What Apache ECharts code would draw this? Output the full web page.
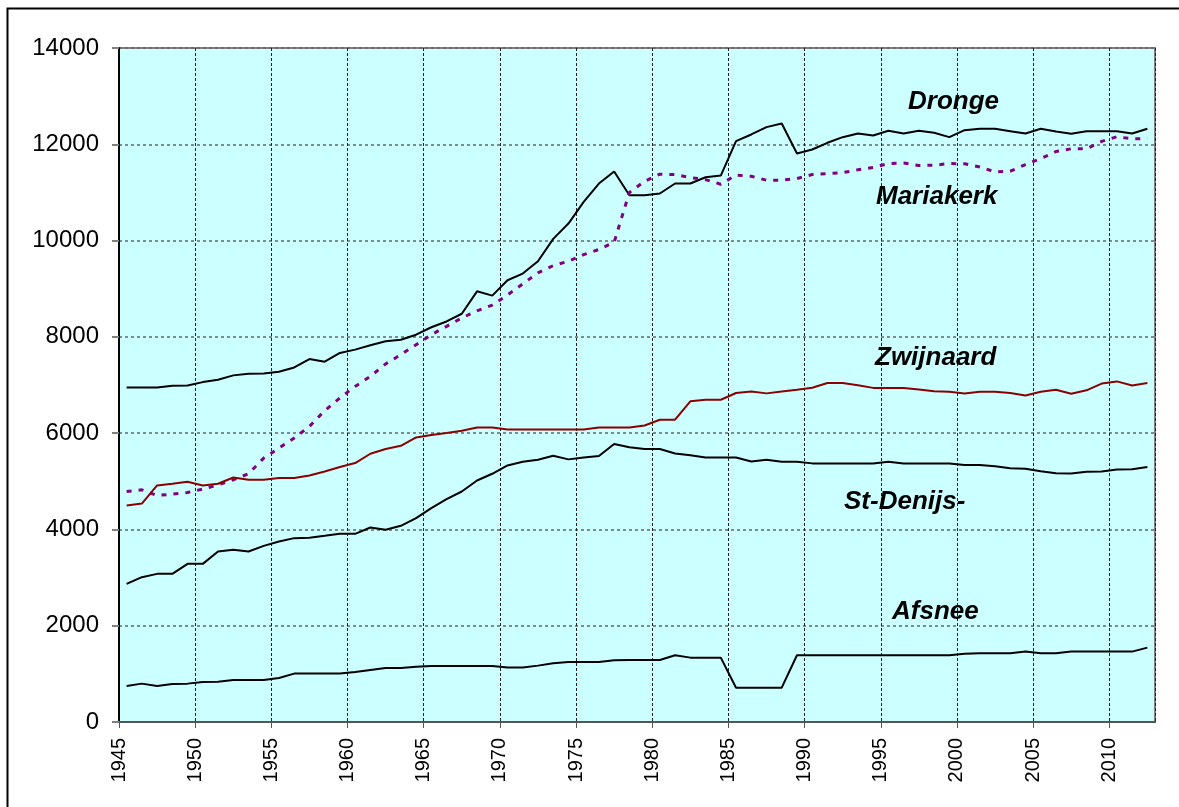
<!DOCTYPE html>
<html>
<head>
<meta charset="utf-8">
<title>Bevolking</title>
<script src="https://cdn.jsdelivr.net/npm/echarts@6/dist/echarts.min.js"></script>
<style>
	html, body { margin: 0; padding: 0; background: #FFFFFF; }
	#populationChart { width: 1179px; height: 807px; }
</style>
</head>
<body>
<div id="populationChart"></div>
<script>
// jaren 1945 - 2012
var years = [];
for(var y = 1945; y <= 2012; y++) {
	years.push(String(y));
}

var yearTicks = { min: 1945, max: 2013, step: 5 };
var valueTicks = { min: 0, max: 14000, step: 2000 };

var dronge = [6950, 6950, 6950, 6985, 6990, 7060, 7110, 7200, 7235, 7240,
	7275, 7365, 7540, 7485, 7665, 7735, 7825, 7910, 7940, 8045,
	8200, 8320, 8480, 8946, 8857, 9175, 9314, 9570, 10035, 10353,
	10805, 11185, 11435, 10943, 10943, 10977, 11185, 11185, 11316, 11350,
	12065, 12204, 12356, 12433, 11810, 11892, 12031, 12148, 12225, 12183,
	12280, 12225, 12280, 12238, 12148, 12294, 12322, 12322, 12273, 12225,
	12322, 12266, 12218, 12273, 12273, 12273, 12225, 12322];

var mariakerke = [4788, 4823, 4705, 4733, 4767, 4837, 4927, 5031, 5156, 5482,
	5690, 5898, 6140, 6466, 6730, 6971, 7179, 7437, 7630, 7838,
	8045, 8218, 8393, 8540, 8660, 8870, 9100, 9330, 9480, 9570,
	9709, 9815, 9965, 11000, 11230, 11380, 11370, 11310, 11265, 11170,
	11360, 11335, 11254, 11254, 11290, 11372, 11390, 11410, 11470, 11520,
	11600, 11610, 11560, 11565, 11600, 11594, 11530, 11425, 11440, 11580,
	11700, 11850, 11906, 11906, 12060, 12156, 12114, 12120];

var zwijnaarde = [4497, 4538, 4913, 4948, 4990, 4913, 4948, 5079, 5031, 5031,
	5066, 5070, 5121, 5204, 5295, 5378, 5572, 5669, 5738, 5911,
	5960, 6002, 6050, 6119, 6119, 6077, 6077, 6077, 6077, 6077,
	6077, 6119, 6119, 6119, 6160, 6279, 6279, 6660, 6694, 6694,
	6833, 6867, 6826, 6867, 6902, 6944, 7041, 7041, 6995, 6940,
	6937, 6937, 6905, 6870, 6861, 6822, 6861, 6861, 6835, 6780,
	6860, 6900, 6820, 6890, 7030, 7075, 6990, 7041];

var stDenijs = [2869, 3008, 3077, 3077, 3285, 3285, 3541, 3576, 3541, 3659,
	3749, 3819, 3826, 3867, 3909, 3909, 4040, 3992, 4075, 4235,
	4443, 4630, 4788, 5017, 5156, 5329, 5405, 5447, 5530, 5455,
	5495, 5527, 5775, 5705, 5670, 5669, 5578, 5540, 5495, 5495,
	5495, 5410, 5447, 5405, 5405, 5372, 5370, 5370, 5370, 5370,
	5405, 5370, 5370, 5370, 5370, 5340, 5336, 5310, 5270, 5260,
	5210, 5165, 5162, 5200, 5204, 5245, 5250, 5295];

var afsnee = [750, 797, 750, 790, 797, 832, 838, 873, 873, 873,
	915, 1005, 1005, 1005, 1005, 1040, 1081, 1123, 1123, 1150,
	1164, 1164, 1164, 1164, 1164, 1130, 1130, 1171, 1220, 1247,
	1247, 1247, 1282, 1289, 1289, 1289, 1386, 1337, 1337, 1337,
	713, 713, 713, 713, 1386, 1386, 1386, 1386, 1386, 1386,
	1386, 1386, 1386, 1386, 1386, 1420, 1428, 1428, 1428, 1462,
	1430, 1428, 1462, 1462, 1462, 1462, 1462, 1545];

var fontName = "'Liberation Sans', Arial, sans-serif";

function makeLine(name, data, color, width, dash) {
	return {
		name: name,
		type: 'line',
		xAxisIndex: 0,
		data: data,
		symbol: 'none',
		showSymbol: false,
		lineStyle: {
			color: color,
			width: width,
			type: dash
		}
	};
}

// naam-labels bij de lijnen
function makeLabel(text, x, y) {
	return {
		type: 'text',
		left: x,
		top: y,
		z: 10,
		style: {
			text: text,
			fill: '#000000',
			font: 'italic bold 26px ' + fontName
		}
	};
}

// geen duizendtallen-scheiding
function plainNumber(v) {
	return String(v);
}

var populationChart = echarts.init(document.getElementById("populationChart"));

var optionPopulationChart = {
	animation: false,
	backgroundColor: '#FFFFFF',
	textStyle: {
		fontFamily: fontName
	},
	grid: {
		left: 119,
		top: 48,
		right: 24,
		bottom: 85,
		show: true,
		backgroundColor: '#CCFFFF',
		borderColor: '#808080',
		borderWidth: 2
	},
	xAxis: [{
		// data-as (verborgen)
		type: 'category',
		data: years,
		boundaryGap: true,
		position: 'bottom',
		show: false
	}, {
		// labels en verticale rasterlijnen
		type: 'value',
		position: 'bottom',
		min: yearTicks.min,
		max: yearTicks.max,
		interval: yearTicks.step,
		axisLine: {
			lineStyle: {
				color: '#555555',
				width: 2
			}
		},
		axisTick: {
			length: 6,
			lineStyle: {
				color: '#555555',
				width: 1
			}
		},
		axisLabel: {
			rotate: 90,
			margin: 16,
			color: '#000000',
			fontSize: 20,
			fontFamily: fontName,
			showMaxLabel: false,
			formatter: plainNumber
		},
		splitLine: {
			show: true,
			lineStyle: {
				color: '#222222',
				width: 1,
				type: [3, 2]
			}
		}
	}],
	yAxis: {
		type: 'value',
		min: valueTicks.min,
		max: valueTicks.max,
		interval: valueTicks.step,
		axisLine: {
			show: true,
			lineStyle: {
				color: '#000000',
				width: 2
			}
		},
		axisTick: {
			show: true,
			length: 7,
			lineStyle: {
				color: '#808080',
				width: 2
			}
		},
		axisLabel: {
			margin: 20,
			color: '#000000',
			fontSize: 24,
			fontFamily: fontName,
			formatter: plainNumber
		},
		splitLine: {
			show: true,
			lineStyle: {
				color: '#666666',
				width: 1.5,
				type: [3, 3]
			}
		}
	},
	graphic: [
		// kader rond de grafiek
		{
			type: 'rect',
			left: 5,
			top: 6,
			z: 20,
			shape: { width: 1300, height: 1000 },
			style: { fill: 'none', stroke: '#000000', lineWidth: 2 }
		},
		makeLabel('Dronge', 908, 89),
		makeLabel('Mariakerk', 876, 184),
		makeLabel('Zwijnaard', 875, 345),
		makeLabel('St-Denijs-', 844, 489),
		makeLabel('Afsnee', 892, 599)
	],
	series: [
		makeLine('Dronge', dronge, '#000000', 2, 'solid'),
		makeLine('Mariakerk', mariakerke, '#800080', 3, [5, 7]),
		makeLine('Zwijnaard', zwijnaarde, '#8B0000', 2, 'solid'),
		makeLine('St-Denijs-Westrem', stDenijs, '#000000', 2, 'solid'),
		makeLine('Afsnee', afsnee, '#000000', 2, 'solid')
	]
};

populationChart.setOption(optionPopulationChart);
</script>
</body>
</html>
